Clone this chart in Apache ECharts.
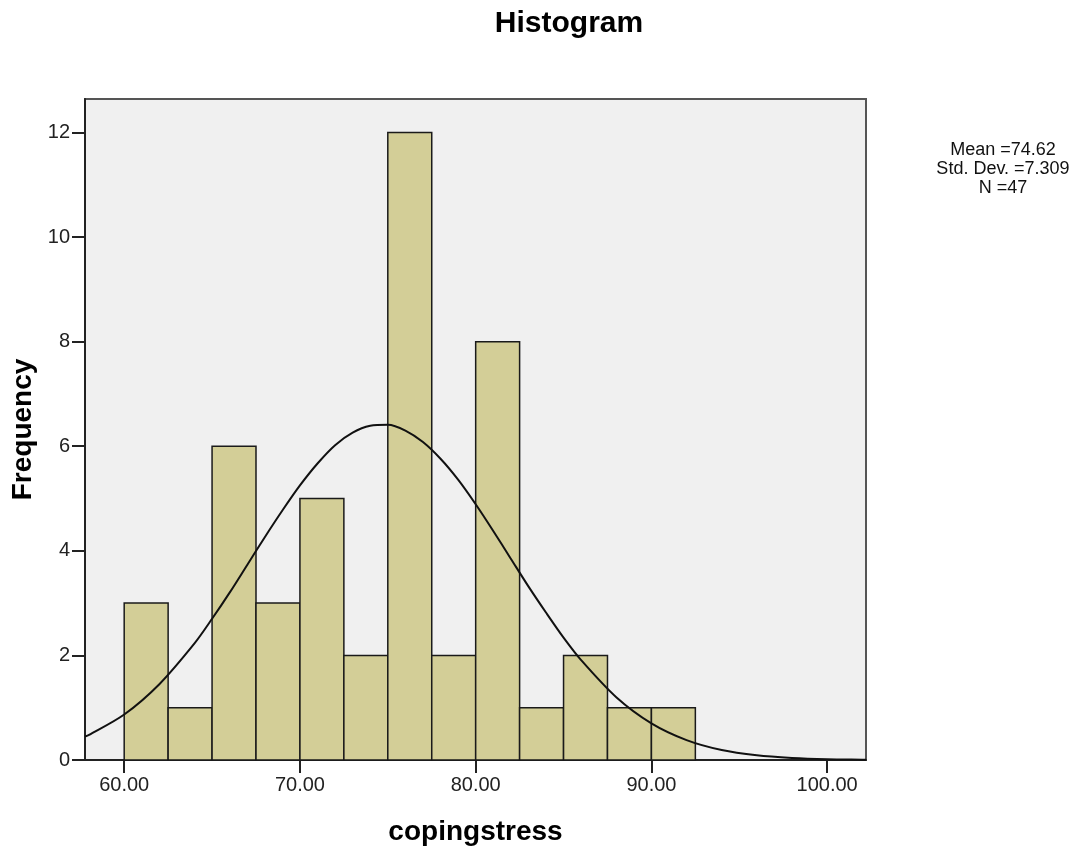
<!DOCTYPE html>
<html>
<head>
<meta charset="utf-8">
<script src="https://cdn.jsdelivr.net/npm/echarts@6/dist/echarts.min.js"></script>
<style>
  html, body { margin: 0; padding: 0; background: #fff; }
  #chart { width: 1090px; height: 851px; }
</style>
</head>
<body>
<div id="chart"></div>
<script>
// histogram bins (edges) and frequencies
const binEdges = [60, 62.5, 65, 67.5, 70, 72.5, 75, 77.5, 80, 82.5, 85, 87.5, 90, 92.5];
const counts = [3, 1, 6, 3, 5, 2, 12, 2, 8, 1, 2, 1, 1];

// normal curve
const curveX = [57.77, 58, 60, 62, 64, 65, 66, 67, 68, 69, 70, 71, 72, 73, 74, 75, 76, 77, 78, 79, 80, 81, 82, 83, 84, 85, 86, 88, 90, 92, 94, 96, 98, 100, 102, 102.21];
const curveY = [0.45, 0.48, 0.87, 1.45, 2.23, 2.7, 3.2, 3.73, 4.26, 4.77, 5.25, 5.67, 6.02, 6.26, 6.39, 6.41, 6.3, 6.08, 5.76, 5.36, 4.89, 4.38, 3.85, 3.32, 2.82, 2.34, 1.91, 1.2, 0.7, 0.38, 0.19, 0.09, 0.04, 0.015, 0.006, 0.005];

const xTicks = [60, 70, 80, 90, 100];
const yTicks = [0, 2, 4, 6, 8, 10, 12];
const stats = ['Mean =74.62', 'Std. Dev. =7.309', 'N =47'];

const font = '"Liberation Sans", Arial, sans-serif';

const barData = counts.map((c, i) => [binEdges[i], binEdges[i + 1], c]);
const lineData = curveX.map((x, i) => [x, curveY[i]]);

const chart = echarts.init(document.getElementById('chart'));

const option = {
  backgroundColor: '#fff',
  animation: false,
  title: {
    text: 'Histogram',
    left: 564,
    top: 4,
    textAlign: 'center',
    textStyle: { fontFamily: font, fontSize: 30, fontWeight: 'bold', color: '#000' }
  },
  grid: {
    left: 85, right: 224, top: 99, bottom: 90,
    show: true,
    backgroundColor: '#f0f0f0',
    borderColor: '#555',
    borderWidth: 2
  },
  xAxis: {
    type: 'value',
    min: 57.77,
    max: 102.21,
    name: 'copingstress',
    nameLocation: 'middle',
    nameGap: 58,
    nameTextStyle: { fontFamily: font, fontSize: 28, fontWeight: 'bold', color: '#000' },
    axisLine: { lineStyle: { color: '#222', width: 2 } },
    axisTick: { show: true, length: 13, lineStyle: { color: '#222', width: 2 }, customValues: xTicks },
    axisLabel: {
      margin: 15,
      fontFamily: font, fontSize: 20, color: '#222',
      customValues: xTicks,
      formatter: v => v.toFixed(2)
    },
    splitLine: { show: false }
  },
  yAxis: {
    type: 'value',
    min: 0,
    max: 12.64,
    name: 'Frequency',
    nameLocation: 'middle',
    nameGap: 40,
    nameTextStyle: { fontFamily: font, fontSize: 28, fontWeight: 'bold', color: '#000' },
    axisLine: { show: true, lineStyle: { color: '#222', width: 2 } },
    axisTick: { show: true, length: 13, lineStyle: { color: '#222', width: 2 }, customValues: yTicks },
    axisLabel: {
      margin: 15,
      fontFamily: font, fontSize: 20, color: '#222',
      customValues: yTicks
    },
    splitLine: { show: false }
  },
  series: [
    {
      type: 'custom',
      data: barData,
      encode: { x: [0, 1], y: 2 },
      renderItem: (params, api) => {
        const p0 = api.coord([api.value(0), 0]);
        const p1 = api.coord([api.value(1), api.value(2)]);
        return {
          type: 'rect',
          shape: { x: p0[0], y: p1[1], width: p1[0] - p0[0], height: p0[1] - p1[1] },
          style: { fill: '#d3ce97', stroke: '#1a1a1a', lineWidth: 1.5 }
        };
      },
      z: 2
    },
    {
      type: 'line',
      data: lineData,
      smooth: 0.3,
      showSymbol: false,
      clip: true,
      lineStyle: { color: '#111', width: 2 },
      z: 3
    }
  ],
  graphic: stats.map((t, i) => ({
    type: 'text',
    x: 1003,
    y: 141 + i * 19,
    style: {
      text: t,
      fontFamily: font,
      fontSize: 18,
      fill: '#111',
      textAlign: 'center',
      textVerticalAlign: 'top'
    }
  }))
};

chart.setOption(option);
</script>
</body>
</html>
